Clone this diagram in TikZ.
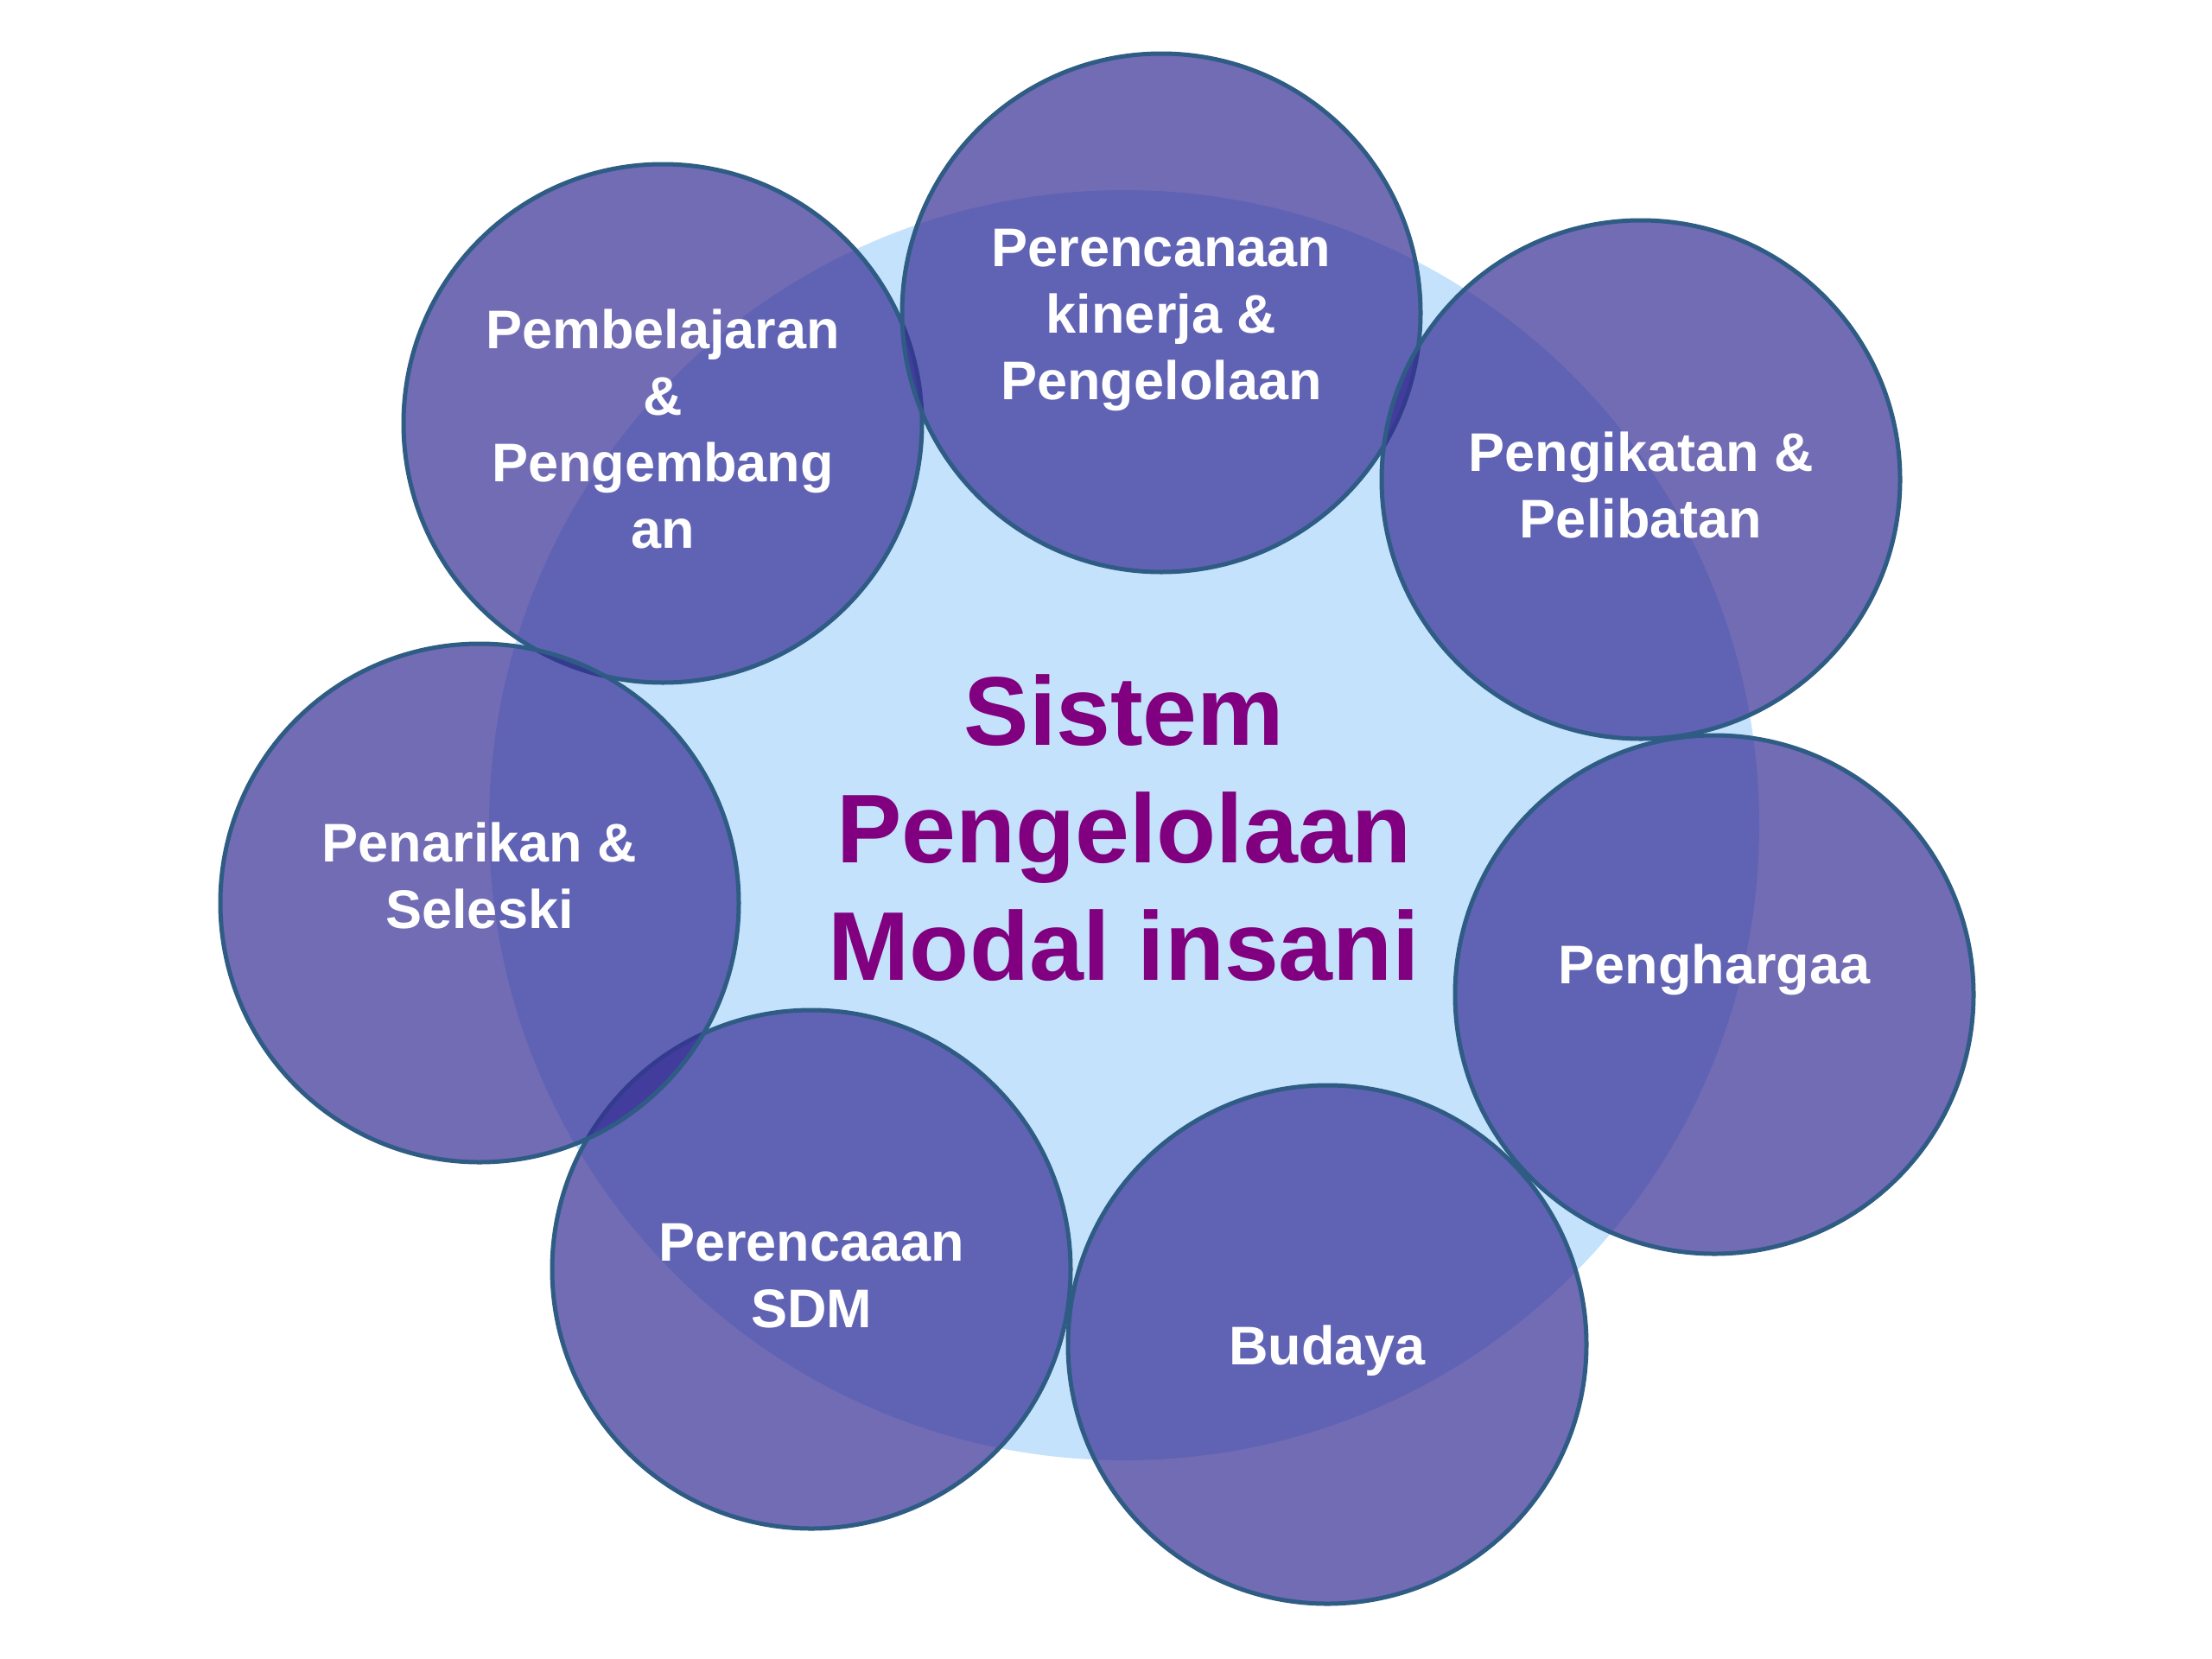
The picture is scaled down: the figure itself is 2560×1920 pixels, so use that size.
\documentclass[tikz,border=0pt]{standalone}
\usepackage{fontspec}
\setmainfont{Liberation Sans}
\definecolor{ringfill}{RGB}{54,46,149}
\definecolor{ringline}{RGB}{47,92,132}
\definecolor{hubfill}{RGB}{196,226,251}
\definecolor{hubtext}{RGB}{128,0,128}
\begin{document}
\begin{tikzpicture}[x=1pt,y=-1pt,
  hub/.style={circle,fill=hubfill,minimum size=1470pt,inner sep=0pt},
  petal/.style={circle,fill=ringfill,fill opacity=0.7,draw=ringline,draw opacity=1,line width=5pt,minimum size=600pt,inner sep=0pt},
  petaltext/.style={text=white,align=center,font=\bfseries\fontsize{63}{77}\selectfont,inner sep=0pt},
  hubtitle/.style={text=hubtext,align=center,font=\bfseries\fontsize{113}{136}\selectfont,inner sep=0pt}]
\useasboundingbox (0,0) rectangle (2560,1920);
\fill[white] (0,0) rectangle (2560,1920);
\node[hub] (hub) at (1301,955) {};
\node[petal] (c1) at (767,490) {};
\node[petal] (c2) at (1344,362) {};
\node[petal] (c3) at (1899,555) {};
\node[petal] (c4) at (1984,1151) {};
\node[petal] (c5) at (1536,1556) {};
\node[petal] (c6) at (939,1469) {};
\node[petal] (c7) at (555,1045) {};
\node[petaltext] (t1) at (767,496) {Pembelajaran\\\&\\Pengembang\\an};
\node[petaltext] (t2) at (1344,370) {Perencanaan\\kinerja \&\\Pengelolaan};
\node[petaltext] (t3) at (1899,561) {Pengikatan \&\\Pelibatan};
\node[petaltext] (t4) at (1984,1122) {Penghargaa};
\node[petaltext] (t5) at (1536,1563) {Budaya};
\node[petaltext] (t6) at (939,1477) {Perencaaan\\SDM};
\node[petaltext] (t7) at (555,1013) {Penarikan \&\\Seleski};
\node[hubtitle] (title) at (1301,958) {Sistem\\Pengelolaan\\Modal insani};
\end{tikzpicture}
\end{document}
